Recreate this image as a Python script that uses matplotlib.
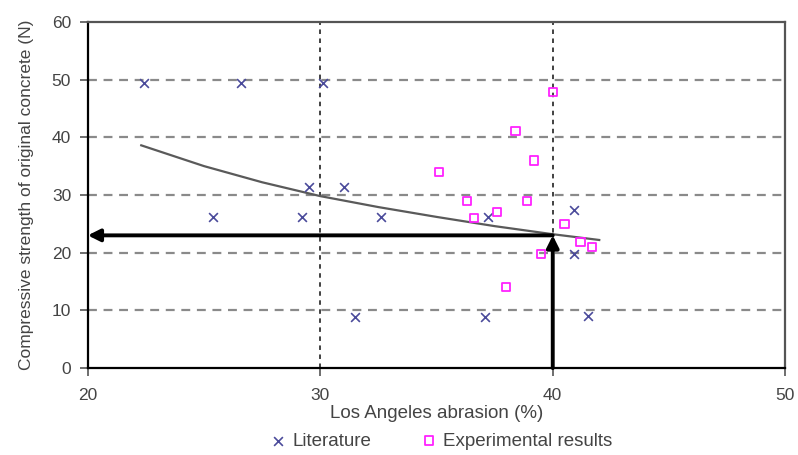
import numpy as np
import matplotlib
matplotlib.use("Agg")
import matplotlib.pyplot as plt

# Literature data: Los Angeles abrasion (%) vs compressive strength
lit_abrasion = [22.4, 26.6, 30.1, 25.4, 29.2, 29.5, 31.0, 32.6, 31.5, 37.1, 37.2, 40.9, 40.9, 41.5]
lit_strength = [49.4, 49.4, 49.4, 26.2, 26.2, 31.4, 31.4, 26.2, 8.8, 8.8, 26.2, 27.4, 19.8, 9.0]

# Experimental results
exp_abrasion = [40.0, 38.4, 39.2, 35.1, 36.3, 38.9, 36.6, 37.6, 40.5, 41.2, 41.7, 39.5, 38.0]
exp_strength = [47.8, 41.1, 36.0, 34.0, 28.9, 28.9, 26.0, 27.0, 25.0, 21.8, 21.0, 19.8, 14.0]

# Trend line
trend_abrasion = [22.3, 25.0, 27.5, 30.0, 32.5, 35.0, 37.5, 40.0, 42.0]
trend_strength = [38.6, 35.0, 32.2, 29.8, 27.9, 26.2, 24.6, 23.2, 22.2]

# Reading for 40 % abrasion
read_abrasion = 40.0
read_strength = 23.0

TEXT = "#444444"
LIT_COLOR = "#4b4b9b"
EXP_COLOR = "#ff22ff"

plt.rcParams.update({
    "font.family": "Liberation Sans",
    "font.size": 12,
})

fig = plt.figure(figsize=(7.98, 4.55), dpi=100)
ax = fig.add_axes([0.110, 0.191, 0.874, 0.761])

ax.set_xlim(20, 50)
ax.set_ylim(0, 60)
ax.set_xticks([20, 30, 40, 50])
ax.set_yticks([0, 10, 20, 30, 40, 50, 60])

# grid: grey dashes horizontally, fine black dashes vertically
for yv in [10, 20, 30, 40, 50]:
    ax.axhline(yv, color="#8a8a8a", lw=1.6, ls=(0, (4, 3)), zorder=1)
for xv in [30, 40]:
    ax.axvline(xv, color="#333333", lw=1.3, ls=(0, (2.5, 2.5)), zorder=1)

ax.plot(trend_abrasion, trend_strength, color="#5a5a5a", lw=1.6, zorder=2)

ax.scatter(lit_abrasion, lit_strength, marker="x", s=40, color=LIT_COLOR,
           linewidths=1.2, label="Literature", zorder=3)
ax.scatter(exp_abrasion, exp_strength, marker="s", s=36, facecolors="none",
           edgecolors=EXP_COLOR, linewidths=1.3, label="Experimental results", zorder=3)

# arrows: up from the abrasion axis, then across to the strength axis
ax.annotate("", xy=(read_abrasion, read_strength), xytext=(read_abrasion, 0),
            arrowprops=dict(arrowstyle="-|>", color="black", lw=2.8,
                            mutation_scale=18, shrinkA=0, shrinkB=0), zorder=4)
ax.annotate("", xy=(20, read_strength), xytext=(read_abrasion, read_strength),
            arrowprops=dict(arrowstyle="-|>", color="black", lw=2.8,
                            mutation_scale=18, shrinkA=0, shrinkB=0), zorder=4)

for side in ["left", "bottom"]:
    ax.spines[side].set_color("black")
    ax.spines[side].set_linewidth(1.6)
for side in ["top", "right"]:
    ax.spines[side].set_color("#555555")
    ax.spines[side].set_linewidth(1.6)

ax.tick_params(direction="out", length=6, width=1.2, colors="#555555",
               labelcolor=TEXT, labelsize=12.5)
ax.tick_params(axis="x", pad=8)
ax.tick_params(axis="y", pad=6)

ax.set_xlabel("Los Angeles abrasion (%)", color=TEXT, fontsize=13.5, labelpad=2)
ax.set_ylabel("Compressive strength of original concrete (N)", color=TEXT,
              fontsize=12.5, labelpad=13)

fig.legend(loc="lower center", bbox_to_anchor=(0.552, -0.025), ncol=2,
           frameon=False, fontsize=13.5, labelcolor=TEXT, handletextpad=0.25,
           columnspacing=2.6, handlelength=1.0)

fig.savefig("out.png", dpi=100)
